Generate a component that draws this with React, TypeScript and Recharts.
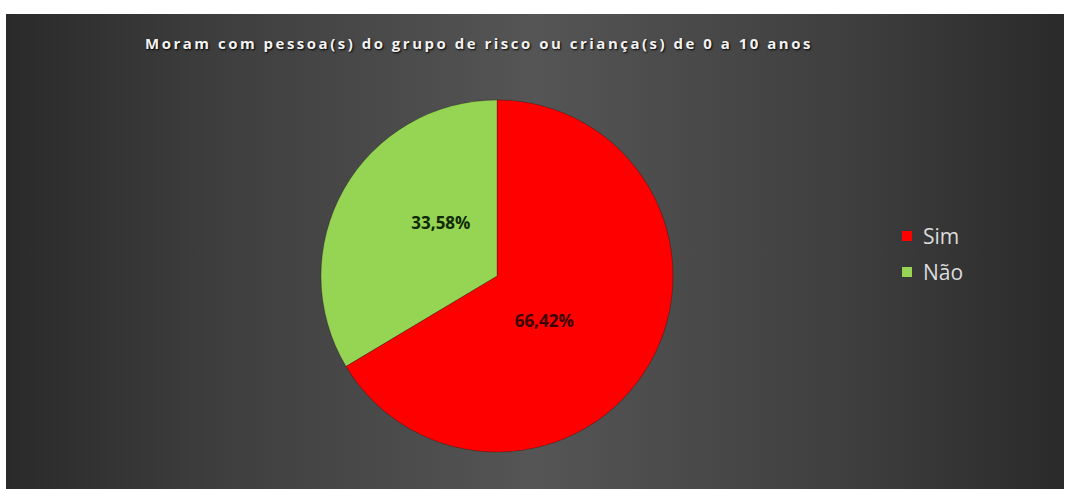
import React from 'react';
import { PieChart, Pie, Cell, Legend } from 'recharts';

const categories = ['Sim', 'Não'];
const shares = [66.42, 33.58];
const sliceColors = ['#ff0000', '#96d454'];
const labelColors = ['#3a0000', '#0f2a05'];

const pieData = categories.map((name, i) => ({ name, value: shares[i] }));

const RADIAN = Math.PI / 180;

// Excel's "best fit" labels sit a little clockwise of the slice middle
function renderLabel(props: any) {
  const { cx, cy, midAngle, outerRadius, index, value } = props;
  const r = outerRadius * (index === 0 ? 0.37 : 0.44);
  const a = (midAngle - 14) * RADIAN;
  const x = cx + r * Math.cos(-a);
  const y = cy + r * Math.sin(-a);
  return (
    <text
      x={x}
      y={y}
      fill={labelColors[index]}
      textAnchor="middle"
      dominantBaseline="central"
      fontFamily="'Open Sans', sans-serif"
      fontWeight={700}
      fontSize={17}
    >
      {value.toFixed(2).replace('.', ',')}%
    </text>
  );
}

function LegendBox() {
  return (
    <div style={{ fontFamily: "'Open Sans', sans-serif" }}>
      {categories.map((name, i) => (
        <div key={name} style={{ display: 'flex', alignItems: 'center', height: 36 }}>
          <span
            style={{
              width: 10,
              height: 10,
              background: sliceColors[i],
              marginRight: 11,
              display: 'inline-block',
            }}
          />
          <span style={{ color: '#dcdcdc', fontSize: 21 }}>{name}</span>
        </div>
      ))}
    </div>
  );
}

export default function App() {
  return (
    <div style={{ position: 'relative', width: 1069, height: 489, background: '#fff' }}>
      <style>{`body{margin:0}`}</style>
      <div
        style={{
          position: 'absolute',
          left: 6,
          top: 14,
          width: 1058,
          height: 475,
          background:
            'linear-gradient(to right, #2a2a2a 0%, #3e3e3e 20%, #555555 50%, #3e3e3e 80%, #2a2a2a 100%)',
        }}
      >
        <div
          style={{
            position: 'absolute',
            left: 139,
            top: 19,
            color: '#f2f2f2',
            fontFamily: "'Open Sans', sans-serif",
            fontWeight: 700,
            fontSize: 15,
            letterSpacing: 2.5,
            textShadow: '1px 1px 2px #000',
            whiteSpace: 'nowrap',
          }}
        >
          Moram com pessoa(s) do grupo de risco ou criança(s) de 0 a 10 anos
        </div>
        <PieChart width={1058} height={475} style={{ position: 'absolute', left: 0, top: 0 }}>
          <Pie
            data={pieData}
            dataKey="value"
            nameKey="name"
            cx={486}
            cy={257}
            outerRadius={176}
            startAngle={90}
            endAngle={-270}
            stroke="rgba(0,0,0,0.25)"
            strokeWidth={1}
            label={renderLabel}
            labelLine={false}
            isAnimationActive={false}
          >
            {pieData.map((d, i) => (
              <Cell key={d.name} fill={sliceColors[i]} />
            ))}
          </Pie>
          <Legend
            layout="vertical"
            align="right"
            verticalAlign="top"
            content={() => <LegendBox />}
            wrapperStyle={{ left: 896, top: 204, width: 120 }}
          />
        </PieChart>
      </div>
    </div>
  );
}
